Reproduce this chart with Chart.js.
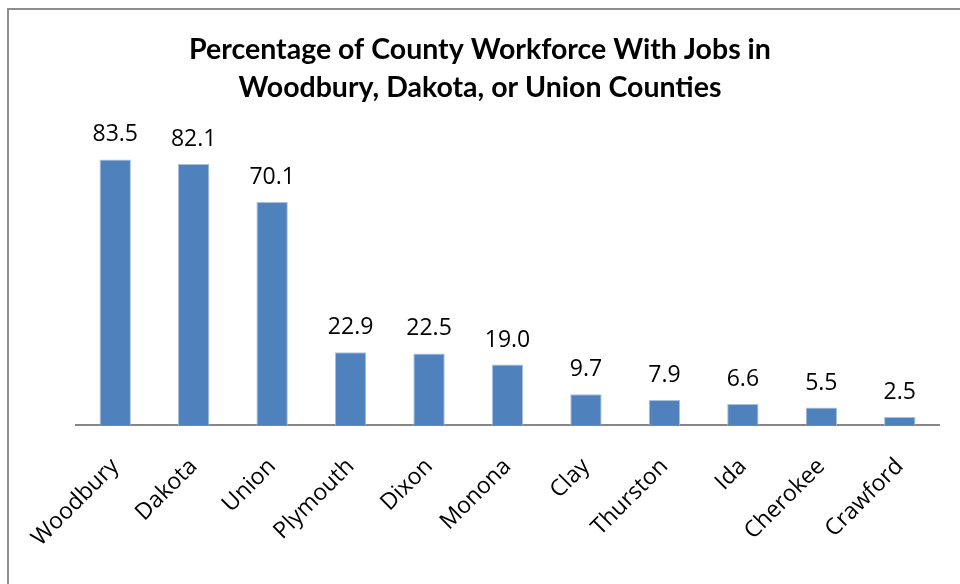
<!DOCTYPE html>
<html>
<head>
<meta charset="utf-8">
<script src="https://cdn.jsdelivr.net/npm/chart.js@4.4.0/dist/chart.umd.min.js"></script>
<style>
  html, body { margin: 0; padding: 0; background: #fff; overflow: hidden; }
  #wrap { position: relative; width: 960px; height: 584px; }
  #frame {
    position: absolute; left: 7px; top: 8px; width: 1000px; height: 1000px;
    border-left: 2px solid #8e8e8e; border-top: 2px solid #8e8e8e;
    pointer-events: none;
  }
  canvas { position: absolute; left: 0; top: 0; }
</style>
</head>
<body>
<div id="wrap">
  <canvas id="chart" width="960" height="584"></canvas>
  <div id="frame"></div>
</div>
<script>
// Counties and the share of each county's workforce employed in the metro core
const counties = ['Woodbury', 'Dakota', 'Union', 'Plymouth', 'Dixon', 'Monona',
                  'Clay', 'Thurston', 'Ida', 'Cherokee', 'Crawford'];
const workforcePct = [83.5, 82.1, 70.1, 22.9, 22.5, 19.0, 9.7, 7.9, 6.6, 5.5, 2.5];
const titleLines = ['Percentage of County Workforce With Jobs in',
                    'Woodbury, Dakota, or Union Counties'];

// Writes each bar's value above it
const valueLabels = {
  id: 'valueLabels',
  afterDatasetsDraw(chart) {
    const ctx = chart.ctx;
    const meta = chart.getDatasetMeta(0);
    ctx.save();
    ctx.font = '23px "Open Sans", sans-serif';
    ctx.fillStyle = '#000';
    ctx.textAlign = 'center';
    ctx.textBaseline = 'alphabetic';
    meta.data.forEach((bar, i) => {
      const v = chart.data.datasets[0].data[i];
      ctx.fillText(v.toFixed(1), bar.x, bar.y - 18);
    });
    ctx.restore();
  }
};

new Chart(document.getElementById('chart'), {
  type: 'bar',
  data: {
    labels: counties,
    datasets: [{
      data: workforcePct,
      backgroundColor: '#4f81bd',
      borderColor: '#a9c0df',
      borderWidth: 1,
      barPercentage: 0.4,
      categoryPercentage: 1.0
    }]
  },
  options: {
    responsive: false,
    animation: false,
    layout: { padding: { left: 21, right: 21, top: 31, bottom: 0 } },
    plugins: {
      legend: { display: false },
      tooltip: { enabled: false },
      title: {
        display: true,
        text: titleLines,
        color: '#000',
        font: { family: 'Lato', size: 28.5, weight: 'bold', lineHeight: 1.33 },
        padding: { top: 0, bottom: 32 }
      }
    },
    scales: {
      x: {
        offset: true,
        grid: { display: false, drawTicks: false },
        border: { display: true, color: '#868686', width: 2 },
        ticks: {
          color: '#000',
          font: { family: 'Open Sans', size: 23 },
          minRotation: 45,
          maxRotation: 45,
          padding: 28,
          autoSkip: false
        },
        afterFit(scale) { scale.height = 159; }
      },
      y: {
        // hidden value axis; it only reserves the left margin
        display: true,
        min: 0,
        max: 90,
        grid: { display: false, drawTicks: false },
        border: { display: false },
        ticks: { display: false },
        afterFit(scale) { scale.width = 55; }
      }
    }
  },
  plugins: [valueLabels]
});
</script>
</body>
</html>
